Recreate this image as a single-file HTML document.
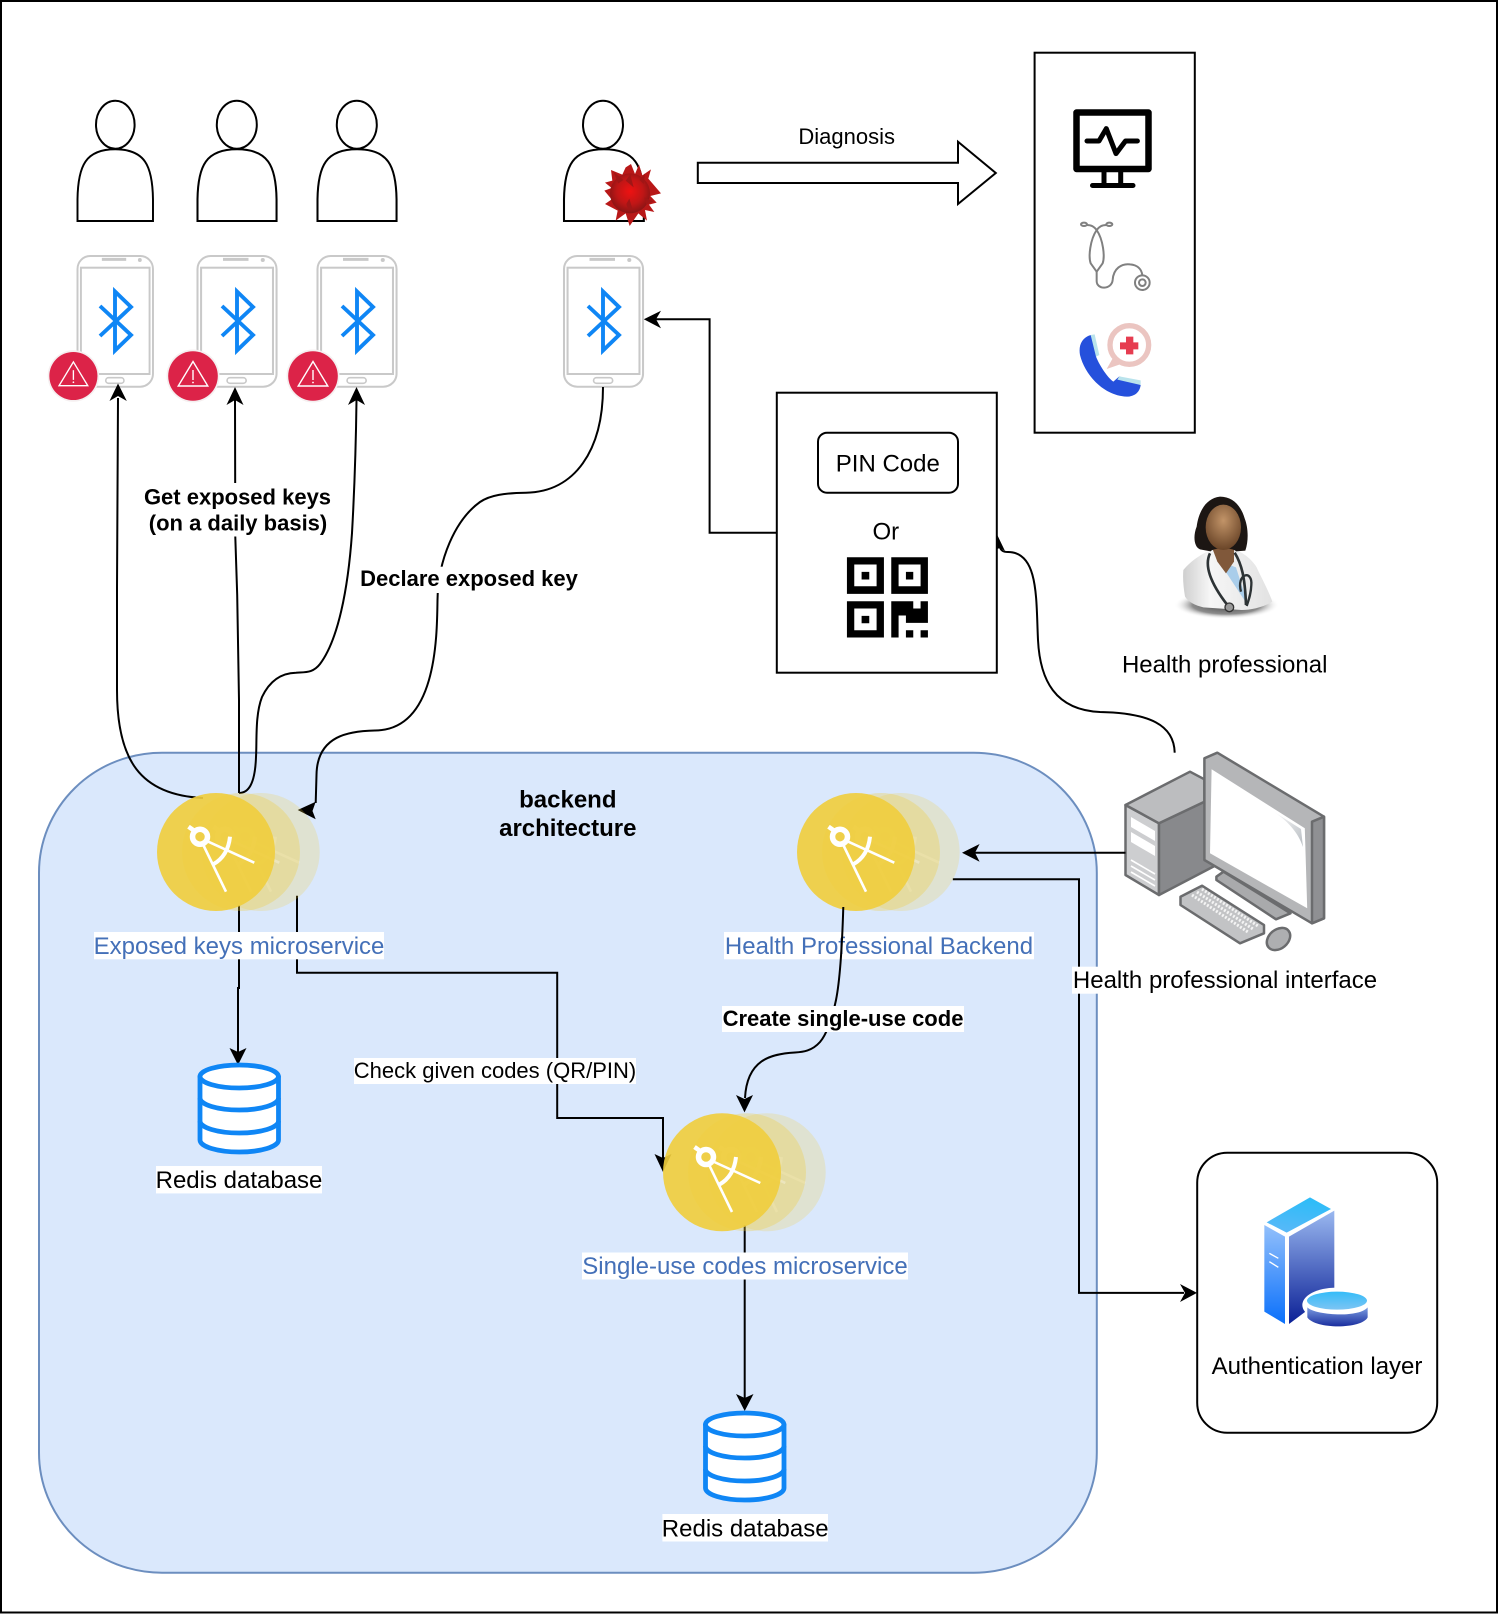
<!DOCTYPE html>
<html><head><meta charset="utf-8"><style>
html,body{margin:0;padding:0;background:#fff}
svg{display:block}
text{font-family:"Liberation Sans",Arial,sans-serif;font-size:24px;fill:#000;text-anchor:middle}
.s22{font-size:22px}.b{font-weight:bold}.blue{fill:#4470b8}
.ln{fill:none;stroke:#000;stroke-width:2}
</style></head><body>
<svg width="1500" height="1614" viewBox="0 0 1500 1614" xmlns="http://www.w3.org/2000/svg">
<defs>
<linearGradient id="gTop" x1="0" y1="1" x2="0.3" y2="0"><stop offset="0" stop-color="#5cb8f8"/><stop offset="1" stop-color="#2fbcf8"/></linearGradient>
<linearGradient id="gL" x1="0" y1="0" x2="0" y2="1"><stop offset="0" stop-color="#93c0fb"/><stop offset="1" stop-color="#0a70fb"/></linearGradient>
<linearGradient id="gR" x1="0" y1="0" x2="0" y2="1"><stop offset="0" stop-color="#9ab8f0"/><stop offset="1" stop-color="#0b2096"/></linearGradient>
<linearGradient id="gCt" x1="0" y1="0" x2="0" y2="1"><stop offset="0" stop-color="#35bcf8"/><stop offset="1" stop-color="#7cc4f4"/></linearGradient>
<linearGradient id="gCb" x1="0" y1="0" x2="0" y2="1"><stop offset="0" stop-color="#7a9be0"/><stop offset="1" stop-color="#1a2e9e"/></linearGradient>
<radialGradient id="gV" cx="0.5" cy="0.45" r="0.6"><stop offset="0" stop-color="#ee1212"/><stop offset="0.55" stop-color="#bf1616"/><stop offset="1" stop-color="#7c1414"/></radialGradient>
<radialGradient id="gFace" cx="0.5" cy="0.35" r="0.65"><stop offset="0" stop-color="#c29468"/><stop offset="1" stop-color="#6a4528"/></radialGradient>
<radialGradient id="gShadow" cx="0.5" cy="0.5" r="0.5"><stop offset="0" stop-color="#4a4a4a"/><stop offset="0.65" stop-color="#8c8c8c"/><stop offset="1" stop-color="#fff" stop-opacity="0"/></radialGradient>
<linearGradient id="gCoat" x1="0" y1="0" x2="1" y2="0"><stop offset="0" stop-color="#cfcfcf"/><stop offset="0.3" stop-color="#f6f6f6"/><stop offset="1" stop-color="#e2e2e2"/></linearGradient>
<linearGradient id="gHi" x1="0" y1="0" x2="1" y2="1"><stop offset="0" stop-color="#fff"/><stop offset="1" stop-color="#b8bdc2"/></linearGradient>

<path id="body" d="M0 71.7 L0 50 C0.5 16 8.5 0 38.8 0 C69 0 77 16 77.5 50 L77.5 71.7 Z" fill="#fff" stroke="#000" stroke-width="2"/>
<g id="phone" fill="none">
 <rect x="0" y="0" width="77.5" height="130.7" rx="13" fill="#fff" stroke="#c9c9c9" stroke-width="2"/>
 <rect x="3.5" y="11.7" width="70.5" height="106.3" stroke="#c9c9c9" stroke-width="2"/>
 <rect x="29" y="121.7" width="18.7" height="5.6" rx="2.8" stroke="#c9c9c9" stroke-width="1.6"/>
 <line x1="25" y1="3.4" x2="50" y2="3.4" stroke="#c9c9c9" stroke-width="3"/>
 <circle cx="64" cy="4" r="2" fill="#c9c9c9"/>
</g>
<path id="bt" d="M-15,-15 L16,14 L0,29.5 L0,-29.5 L16,-14 L-15,15" fill="none" stroke="#0f86f5" stroke-width="3.9"/>
<g id="badge">
 <circle r="26.5" fill="#f5eff0"/>
 <circle r="24.8" fill="#dc2348"/>
 <path d="M0,-14.5 L14.8,10 L-14.8,10 Z" fill="none" stroke="#fff" stroke-width="1.4"/>
 <line x1="0" y1="-6" x2="0" y2="4" stroke="#fff" stroke-width="1.4"/>
 <circle cx="0" cy="6.5" r="0.9" fill="#fff"/>
</g>
<g id="comp">
 <g fill="none" stroke="#fff">
  <path d="M203.3,845 L226,891.7 M208.3,841.7 L254.3,862.7" stroke-width="2.6"/>
  <path d="M230,836.7 Q228,856 213.3,864.3" stroke-width="4"/>
  <path d="M188.5,826.7 L196,832" stroke-width="4.5"/>
 </g>
 <circle cx="200" cy="836.7" r="7.5" fill="none" stroke="#fff" stroke-width="5.5"/>
</g>
<g id="ms">
 <circle cx="260.7" cy="852" r="59" fill="#f0ce3c" fill-opacity=".22"/>
 <use href="#comp" x="45" opacity=".25"/>
 <circle cx="241" cy="852" r="59" fill="#f0ce3c" fill-opacity=".32"/>
 <use href="#comp" x="25" opacity=".3"/>
 <circle cx="216" cy="852" r="59" fill="#f0ce3c" fill-opacity=".91"/>
 <use href="#comp"/>
</g>
<g id="db" fill="#fff" stroke="#0f86f5" stroke-width="4.8">
 <path d="M0,14 V76 A39.2,12 0 0 0 78.5,76 V14 Z"/>
 <ellipse cx="39.2" cy="12.5" rx="39.2" ry="11.5"/>
 <path d="M0,34 A39.2,12 0 0 0 78.5,34 M0,57 A39.2,12 0 0 0 78.5,57" fill="none"/>
</g>
</defs>

<rect x="1" y="1" width="1496" height="1611.5" fill="#fff" stroke="#000" stroke-width="2"/>

<!-- backend area -->
<rect x="39" y="752.7" width="1057.8" height="820" rx="123" ry="120" fill="#dae8fc" stroke="#6c8ebf" stroke-width="2"/>

<!-- persons -->
<use href="#body" transform="translate(77.5,149.3) scale(.974,1)"/>
<ellipse cx="115.3" cy="124.7" rx="19.3" ry="24" fill="#fff" stroke="#000" stroke-width="2"/>
<use href="#body" transform="translate(197.5,149.3) scale(1.02,1)"/>
<ellipse cx="236.8" cy="124.7" rx="20" ry="24" fill="#fff" stroke="#000" stroke-width="2"/>
<use href="#body" transform="translate(317.5,149.3) scale(1.02,1)"/>
<ellipse cx="356.8" cy="124.7" rx="20" ry="24" fill="#fff" stroke="#000" stroke-width="2"/>
<use href="#body" transform="translate(564,149.3) scale(1.03,1)"/>
<ellipse cx="603" cy="124.7" rx="20" ry="24" fill="#fff" stroke="#000" stroke-width="2"/>

<!-- virus -->
<g transform="translate(595,160) scale(.3333)">
 <polygon points="48,30 82,44 92,22 108,12 120,42 132,14 142,46 168,28 160,56 198,100 166,108 185,128 162,134 178,156 150,150 156,182 130,160 104,198 92,160 62,182 68,152 30,132 50,118 28,92 50,84 30,68 52,62" fill="#b81818"/>
 <circle cx="105" cy="100" r="60" fill="url(#gV)"/>
 <path d="M92,62 L106,44 L116,82 Z M94,132 L103,116 L112,146 L100,150 Z M148,112 L176,124 L154,134 Z M55,35 L85,60 L70,70 Z M134,60 L150,40 L146,72 Z" fill="#a01616"/>
</g>

<!-- phones -->
<use href="#phone" transform="translate(77.5,256) scale(.974,1)"/>
<use href="#phone" transform="translate(197.5,256) scale(1.02,1)"/>
<use href="#phone" transform="translate(317.5,256) scale(1.02,1)"/>
<use href="#phone" transform="translate(564,256) scale(1.02,1)"/>
<use href="#bt" x="115" y="321"/>
<use href="#bt" x="237" y="321"/>
<use href="#bt" x="357" y="321"/>
<use href="#bt" x="603" y="321"/>

<!-- badges -->
<use href="#badge" transform="translate(73.4,376) scale(.97)"/>
<use href="#badge" x="193" y="376"/>
<use href="#badge" x="313" y="376"/>

<!-- diagnosis arrow -->
<path d="M697.8,162.7 H958 V141.7 L995.8,173 L958,204 V183 H697.8 Z" fill="#fff" stroke="#000" stroke-width="2"/>
<text class="s22" x="846.7" y="144">Diagnosis</text>

<!-- medical box -->
<rect x="1034.6" y="52.7" width="160.2" height="380" fill="#fff" stroke="#000" stroke-width="2"/>
<rect x="1076.5" y="112.5" width="72" height="56.5" fill="none" stroke="#000" stroke-width="6.5" stroke-linejoin="round"/>
<path d="M1087,141 H1099 L1106.3,128.6 L1116,153.6 L1125.5,141 H1137.4" fill="none" stroke="#000" stroke-width="5" stroke-linecap="round" stroke-linejoin="round"/>
<path d="M1104,171 V185.5 M1120.7,171 V185.5 M1092.5,185.5 H1133" fill="none" stroke="#000" stroke-width="5" stroke-linecap="round"/>
<g transform="translate(1070,215) scale(.3333)">
 <g fill="none" stroke="#808080" stroke-width="6">
  <ellipse cx="42" cy="28" rx="9" ry="5"/><ellipse cx="118" cy="28" rx="9" ry="5"/>
  <path d="M50,30 C65,30 72,35 80,45 M110,30 C95,30 88,35 80,45"/>
  <path d="M80,45 C60,75 55,125 62,145 L80,170 L98,145 C105,125 100,75 80,45 Z"/>
  <path d="M80,170 V198 C80,225 125,225 128,195 C130,160 155,145 180,148 C205,150 215,165 217,180"/>
  <circle cx="217" cy="203" r="22"/><circle cx="217" cy="203" r="10"/>
 </g>
 <circle cx="178" cy="390" r="58" fill="#fff" stroke="#ebc5c1" stroke-width="16"/>
 <path d="M128,430 L110,462 L150,448 Z" fill="#ebc5c1"/>
 <path d="M168,365 H190 V382 H205 V403 H190 V418 H168 V403 H150 V382 H168 Z" fill="#e63c50"/>
 <path d="M62,360 C35,368 25,392 30,420 C45,480 100,542 170,545 C195,545 210,530 212,510 L148,484 L130,500 C115,490 90,455 78,425 L85,420 Z" fill="#2550dc"/>
 <path d="M62,360 L74,358 L88,420 L78,425 Z M148,484 L212,496 L212,510 L142,494 Z" fill="#b9e3ec"/>
</g>

<!-- QR box -->
<rect x="776.8" y="392.7" width="220" height="280" fill="#fff" stroke="#000" stroke-width="2"/>
<rect x="818" y="432.7" width="140" height="60" rx="9" fill="#fff" stroke="#000" stroke-width="2"/>
<text x="887.8" y="471.5">PIN Code</text>
<text x="885.8" y="539.3">Or</text>
<g transform="translate(840.6,550.2) scale(.3333)">
 <path fill-rule="evenodd" d="M19,21H130V131H19Z M41,43V108H108V43Z M63,65H86V88H63Z"/>
 <path fill-rule="evenodd" d="M152,21H262V131H152Z M174,43V108H240V43Z M196,65H218V88H196Z"/>
 <path fill-rule="evenodd" d="M19,153H130V262H19Z M41,175V240H108V175Z M63,197H86V219H63Z"/>
 <path d="M152,153H218V175H240V153H262V218H196V196H174V262H152Z M196,240H218V262H196Z M240,240H262V262H240Z"/>
</g>

<!-- arrow to phone 4 -->
<path class="ln" d="M776.8,532.7 H709.6 V319.3 H655"/>
<polygon points="643.8,319.3 661,310.7 656,319.3 661,328.3"/>

<!-- doctor -->
<g transform="translate(1170,490) scale(.3333)">
 <ellipse cx="170" cy="345" rx="158" ry="42" fill="url(#gShadow)"/>
 <path d="M40,240 C60,215 90,195 115,183 H205 C230,195 250,215 260,232 C275,265 295,300 307,335 C280,352 240,360 215,360 L100,352 C75,347 55,335 45,320 C40,290 38,265 40,240 Z" fill="url(#gCoat)"/>
 <path d="M145,212 L198,232 L235,348 Z" fill="#a9cdea"/>
 <path d="M125,170 H192 L192,215 L168,250 L142,215 Z" fill="#80583a"/>
 <path d="M150,20 C105,25 85,70 80,110 C68,140 73,172 90,178 L122,184 C130,172 190,172 198,184 L226,182 C237,150 234,110 224,85 C212,45 187,20 150,20 Z" fill="#1c1613"/>
 <ellipse cx="160" cy="112" rx="53" ry="68" fill="url(#gFace)"/>
 <path d="M120,190 C103,225 118,275 172,345 M194,188 C215,222 225,262 228,345" fill="none" stroke="#2d3335" stroke-width="8"/>
 <path d="M213,305 C198,250 248,238 244,285 C243,312 236,330 230,348" fill="none" stroke="#2d3335" stroke-width="7"/>
 <circle cx="178" cy="352" r="13" fill="#999" stroke="#333" stroke-width="4"/>
</g>
<text x="1224.7" y="672.7">Health professional</text>

<!-- PC -->
<g stroke="#6b6c6e" stroke-width="2.5" stroke-linejoin="round">
 <polygon points="1125.5,805 1159,823.3 1159,895 1125.5,875" fill="#cdced0"/>
 <polygon points="1159,823.3 1204.4,801.7 1216.4,865 1159,895" fill="#88898c"/>
 <polygon points="1125.5,805 1190,771.7 1204.4,779.3 1204.4,801.7 1159,823.3" fill="#bcbdbf"/>
 <polygon points="1216.4,876.7 1223.5,871.7 1290.5,913.3 1276,919.3 1216.4,880" fill="#a9aaac"/>
 <polygon points="1204.4,758.3 1217.3,752.7 1324,816.7 1324,918.3 1312,923.3 1204.4,860" fill="#b5b6b8"/>
 <polygon points="1312,821.7 1324,816.7 1324,918.3 1312,923.3" fill="#8f9093"/>
 <polygon points="1180.5,896.7 1202,885.7 1264,925 1264,933.3 1240,943.3 1180.5,905" fill="#c2c3c5"/>
</g>
<polygon points="1211.6,769.3 1304.8,828.3 1307.2,908.3 1210,853.3" fill="#fff"/>
<path d="M1271,810 L1301,829 L1303,847 C1298,832 1287,820 1271,810 Z" fill="url(#gHi)"/>
<path d="M1131,817 L1155,831 V841 L1131,827 Z M1131,832 L1155,846 V856 L1131,842 Z" fill="#fff"/>
<path d="M1131,860 L1155,874 M1131,866 L1155,880 M1131,872 L1155,886" stroke="#fff" stroke-width="1.6"/>
<path d="M1192,895 L1248,932 M1197,892 L1253,929 M1202,889 L1258,926" stroke="#f4f4f4" stroke-width="3" stroke-dasharray="2 1.6"/>
<ellipse cx="1278.5" cy="939" rx="13" ry="9.5" transform="rotate(-40 1278.5 939)" fill="#aeafb1" stroke="#6b6c6e" stroke-width="2.5"/>

<!-- curve PC to QR -->
<path class="ln" d="M1174.7,752.7 C1174,725 1150,713 1100,712 C1055,710 1040,680 1038,640 C1036,600 1039,552 1008,552 C1003,552 1001,551 999,545"/>
<polygon points="997.3,535 1005,551 1000,548 997,549"/>

<!-- Auth box -->
<rect x="1197.2" y="1152.7" width="240" height="280" rx="30" fill="#fff" stroke="#000" stroke-width="2"/>
<g transform="translate(1255,1190) scale(.3333)">
 <polygon points="35,97 165,22 228,57 95,128" fill="url(#gTop)"/>
 <polygon points="28,105 90,140 90,402 28,365" fill="url(#gL)"/>
 <polygon points="102,140 238,62 238,300 102,402" fill="url(#gR)"/>
 <path d="M43,190 L70,205 M43,215 L70,232" stroke="#fff" stroke-width="4"/>
 <ellipse cx="242" cy="345" rx="100" ry="52" fill="#fff"/>
 <path d="M157,352 C180,375 310,385 338,352 V382 C320,418 180,418 157,382 Z" fill="url(#gCb)"/>
 <ellipse cx="246" cy="332" rx="90" ry="27" fill="url(#gCt)"/>
</g>
<text x="1317" y="1374">Authentication layer</text>

<!-- backend connectors -->
<path class="ln" d="M203,798 C140,795 117,760 117,690 L117,588 L118,398"/>
<polygon points="118,383.5 126.8,401 118,396 109.5,401"/>
<path class="ln" d="M239,793 L239,700 L237.2,595 L235.3,537 L235,400"/>
<polygon points="235,387 243.5,405 235,400 226.5,405"/>
<path class="ln" d="M239,793 C248,793 255,785 256,757 C257,740 255,715 262,697 C270,680 282,673 296,672.7 C306,672 313,673 320,664 C338,640 348,590 352,533 C355,480 356,440 356.5,400"/>
<polygon points="356.5,387 365,405 356.5,400 348,405"/>
<path class="ln" d="M603,387 C603,450 575,492 526,492.7 C505,493 490,495 480,502 C455,520 438,560 437.5,600 C437,640 436,730 375,730.5 C350,731 317,735 316.5,775 L315.7,803"/>
<polygon points="297.7,810 315.7,801.7 312.5,811 315.7,819.3"/>

<path class="ln" d="M239,905 V988 H238 V1052"/>
<polygon points="238,1065 229.5,1048 238,1052 246.5,1048"/>
<path class="ln" d="M297,895.7 V972.7 H557.2 V1118 H663 V1158"/>
<polygon points="663,1172 654.5,1154 663,1158 671.5,1154"/>
<path class="ln" d="M744.7,1225 V1398"/>
<polygon points="744.7,1411 736,1394 744.7,1398 753.5,1394"/>
<path class="ln" d="M952.8,879.3 H1079 V1292.9 H1184"/>
<polygon points="1197,1292.9 1180,1284 1185,1292.9 1180,1302"/>
<path class="ln" d="M1125.5,852.7 H975"/>
<polygon points="962,852.7 979.6,844 975,852.7 979.6,861.7"/>

<!-- microservices -->
<use href="#ms"/>
<use href="#ms" x="640"/>
<use href="#ms" transform="translate(506,320.3)"/>

<!-- labels -->
<rect x="94" y="932" width="290" height="27.3" fill="#fff"/>
<text class="blue" x="239" y="954.2">Exposed keys microservice</text>
<rect x="724" y="932" width="310" height="27.3" fill="#fff"/>
<text class="blue" x="879" y="954.2">Health Professional Backend</text>
<path class="ln" d="M843.3,907 C842,950 840,980 836,1000 C832,1020 826,1035 820,1042 C812,1051 803,1052 795,1052.5 C770,1054 747,1060 745,1098"/>
<polygon points="744.5,1112.4 736,1095 744.5,1099 753,1095"/>
<rect x="582" y="1252.5" width="326" height="27" fill="#fff"/>
<text class="blue" x="745" y="1274">Single-use codes microservice</text>
<rect x="722" y="1006" width="242" height="26" fill="#fff"/>
<text class="s22 b" x="843" y="1026">Create single-use code</text>
<rect x="354" y="1058" width="282" height="26" fill="#fff"/>
<text class="s22" x="495" y="1078">Check given codes (QR/PIN)</text>
<rect x="144" y="483" width="186" height="53.5" fill="#fff"/>
<text class="s22 b" x="237.5" y="504.5">Get exposed keys</text>
<text class="s22 b" x="238" y="530.5">(on a daily basis)</text>
<rect x="361" y="566.7" width="216" height="26.3" fill="#fff"/>
<text class="s22 b" x="469" y="586">Declare exposed key</text>
<text class="b" x="567.8" y="807.3">backend</text>
<text class="b" x="567.8" y="836">architecture</text>
<rect x="1072" y="966.7" width="305" height="27" fill="#fff"/>
<text x="1225" y="988.2">Health professional interface</text>

<!-- redis -->
<use href="#db" x="200" y="1064"/>
<rect x="156" y="1166" width="166" height="27.4" fill="#fff"/>
<text x="239" y="1188">Redis database</text>
<use href="#db" x="705.5" y="1412"/>
<rect x="662.4" y="1514" width="165.6" height="27.5" fill="#fff"/>
<text x="745.2" y="1536.5">Redis database</text>
</svg>
</body></html>
